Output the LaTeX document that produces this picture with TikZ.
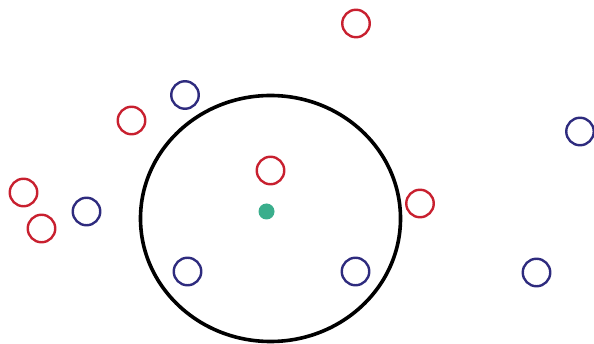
\documentclass[tikz,border=0pt]{standalone}
\usepackage{tikz}
\definecolor{ptRed}{HTML}{C8202F}
\definecolor{ptBlue}{HTML}{2E2B7E}
\definecolor{ptGreen}{HTML}{3AAE8C}
\tikzset{
  redpt/.style={circle,draw=ptRed,line width=2.4pt,minimum size=27.5pt,inner sep=0pt},
  bluept/.style={circle,draw=ptBlue,line width=2.4pt,minimum size=27.5pt,inner sep=0pt},
  query/.style={circle,fill=ptGreen,minimum size=16pt,inner sep=0pt}
}
\begin{document}
\begin{tikzpicture}[x=1pt,y=-1pt]
\useasboundingbox (0,0) rectangle (594,344);
\clip (0,0) rectangle (594,344);
\draw[line width=3.6pt] (270.5,218.5) ellipse [x radius=130, y radius=123];
\node[query] (q) at (266.5,211.5) {};
\node[redpt] (r1) at (356,23.5) {};
\node[redpt] (r2) at (131.5,120.5) {};
\node[redpt] (r3) at (270.5,170.5) {};
\node[redpt] (r4) at (420,203.5) {};
\node[redpt] (r5) at (23.5,192.5) {};
\node[redpt] (r6) at (41.5,228.5) {};
\node[bluept] (b1) at (185,95) {};
\node[bluept] (b2) at (580,131.5) {};
\node[bluept] (b3) at (86.5,211.5) {};
\node[bluept] (b4) at (187.5,271.5) {};
\node[bluept] (b5) at (355.5,271.5) {};
\node[bluept] (b6) at (536.5,272.5) {};
\end{tikzpicture}
\end{document}
